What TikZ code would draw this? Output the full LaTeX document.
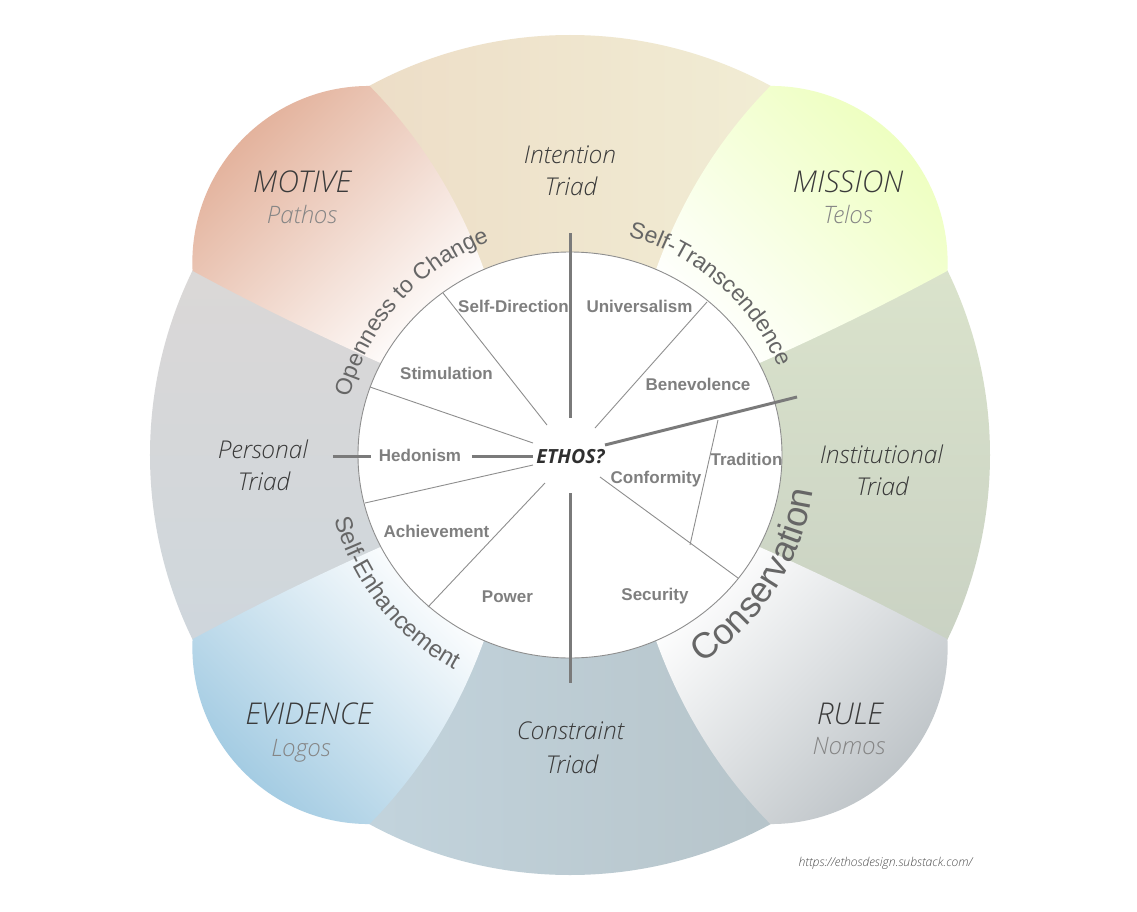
\documentclass[tikz,border=0pt]{standalone}
\usepackage{fontspec}
\setmainfont{Open Sans}
\newfontfamily\arialf{Liberation Sans}
\IfFontExistsTF{Open Sans Light}{\newfontfamily\lightf{Open Sans Light}}{\newfontfamily\lightf{Open Sans}}
\usetikzlibrary{calc,decorations.text}

\definecolor{intL}{HTML}{ECDAC4}
\definecolor{intR}{HTML}{F2F0D7}
\definecolor{perT}{HTML}{DED8D5}
\definecolor{perB}{HTML}{CBD6DE}
\definecolor{insT}{HTML}{DFE8CE}
\definecolor{insB}{HTML}{C5CDC1}
\definecolor{conL}{HTML}{C5D7E1}
\definecolor{conR}{HTML}{B4C1C6}
\definecolor{motC}{HTML}{E2AF98}
\definecolor{misC}{HTML}{EDFFBD}
\definecolor{eviC}{HTML}{9FC9E1}
\definecolor{rulC}{HTML}{BCC2C6}
\definecolor{txtdark}{HTML}{3A3A3A}
\definecolor{txtsub}{HTML}{858585}
\definecolor{valc}{HTML}{7F7F7F}
\definecolor{curvc}{HTML}{666666}
\definecolor{linec}{HTML}{7A7A7A}
\definecolor{thinc}{HTML}{8E8E8E}
\definecolor{ethosc}{HTML}{2F2F2F}
\definecolor{urlc}{HTML}{505050}

\newcommand{\curvfont}{\arialf\fontsize{23}{27}\selectfont\color{curvc}}
\newcommand{\enhfont}{\arialf\fontsize{24}{28}\selectfont\color{curvc}}
\newcommand{\consfont}{\arialf\fontsize{36}{40}\selectfont\color{curvc}}

% petal with vertical-band side at low angle, horizontal-band side at high angle
\newcommand{\petalA}[1]{({#1-20}:200) .. controls ({#1-21.5}:273) and ({#1-20}:347) .. ($({#1+1.25}:278.6)+({#1+1.25-46.5}:176.4)$) arc[start angle={#1+1.25-46.5}, end angle={#1+1.25+46.5}, radius=176.4] .. controls ({#1+19.5}:347) and ({#1+19.6}:273) .. ({#1+19}:200) -- cycle}
% petal with horizontal-band side at low angle, vertical-band side at high angle
\newcommand{\petalB}[1]{({#1-19}:200) .. controls ({#1-19.6}:273) and ({#1-19.5}:347) .. ($({#1-1.25}:278.6)+({#1-1.25-46.5}:176.4)$) arc[start angle={#1-1.25-46.5}, end angle={#1-1.25+46.5}, radius=176.4] .. controls ({#1+20}:347) and ({#1+21.5}:273) .. ({#1+20}:200) -- cycle}

\begin{document}
\begin{tikzpicture}[x=1pt,y=1pt,
  tri/.style={font=\lightf\itshape\fontsize{24.5}{28}\selectfont, text=txtdark, anchor=base, inner sep=0pt},
  bigname/.style={font=\lightf\itshape\fontsize{30}{34}\selectfont, text=txtdark, anchor=base, inner sep=0pt},
  subname/.style={font=\lightf\itshape\fontsize{24}{28}\selectfont, text=txtsub, anchor=base, inner sep=0pt},
  val/.style={font=\arialf\bfseries\fontsize{17}{20}\selectfont, text=valc, anchor=base, inner sep=0pt},
  thickln/.style={draw=linec, line width=3pt},
  thinln/.style={draw=thinc, line width=0.9pt},
]
\path[use as bounding box, fill=white] (-570,-456) rectangle (567,455);

% bands
\shade[left color=intL, right color=intR] (0,0) -- (45:420) arc[start angle=45, end angle=135, radius=420] -- cycle;
\shade[top color=insT, bottom color=insB] (0,0) -- (-45:420) arc[start angle=-45, end angle=45, radius=420] -- cycle;
\shade[left color=conL, right color=conR] (0,0) -- (225:420) arc[start angle=225, end angle=315, radius=420] -- cycle;
\shade[top color=perT, bottom color=perB] (0,0) -- (135:420) arc[start angle=135, end angle=225, radius=420] -- cycle;

% petals
\shade[top color=motC, bottom color=white, shading angle=45] \petalA{135};
\shade[top color=misC, bottom color=white, shading angle=-45] \petalB{45};
\shade[top color=white, bottom color=eviC, shading angle=-45] \petalB{225};
\shade[top color=white, bottom color=rulC, shading angle=45] \petalA{315};

% curved labels
\path[decorate, decoration={text along path, text align=center, text={|\curvfont|Openness to Change}}] (170:228) arc[start angle=170, end angle=106, radius=228];
\path[decorate, decoration={text along path, text align=center, text={|\curvfont|Self-Transcendence}}] (90:226) arc[start angle=90, end angle=8, radius=226];
\path[decorate, decoration={text along path, text align=center, text={|\enhfont|Self-Enhancement}}] (180:244) arc[start angle=180, end angle=257, radius=244];
\path[decorate, decoration={text along path, text align=center, text={|\consfont|Conservation}}] (-80:246) arc[start angle=-80, end angle=14, radius=246];

% inner disc
\draw[draw=thinc, line width=0.9pt, fill=white] (0,0) ellipse [x radius=212, y radius=203];

% coordinates
\coordinate (vt1) at (0,222); \coordinate (vt2) at (0,37);
\coordinate (vb1) at (0,-38); \coordinate (vb2) at (0,-228);
\coordinate (hl1) at (-237,-1); \coordinate (hl2) at (-199,-1);
\coordinate (hi1) at (-98,-1); \coordinate (hi2) at (-37,-1);
\coordinate (sl1) at (35,10); \coordinate (sl2) at (227,58);
\coordinate (t1a) at (-23,30); \coordinate (t1b) at (-127,162);
\coordinate (t2a) at (-37,12); \coordinate (t2b) at (-200,68);
\coordinate (t3a) at (-37,-10); \coordinate (t3b) at (-205,-48);
\coordinate (t4a) at (-25,-28); \coordinate (t4b) at (-142,-152);
\coordinate (t5a) at (25,27); \coordinate (t5b) at (137,153);
\coordinate (t6a) at (30,-22); \coordinate (t6b) at (168,-123);
\coordinate (t7a) at (148,35); \coordinate (t7b) at (120,-90);

% thin dividers
\draw[thinln] (t1a) -- (t1b);
\draw[thinln] (t2a) -- (t2b);
\draw[thinln] (t3a) -- (t3b);
\draw[thinln] (t4a) -- (t4b);
\draw[thinln] (t5a) -- (t5b);
\draw[thinln] (t6a) -- (t6b);
\draw[thinln] (t7a) -- (t7b);

% thick axes
\draw[thickln] (vt1) -- (vt2);
\draw[thickln] (vb1) -- (vb2);
\draw[thickln] (hl1) -- (hl2);
\draw[thickln] (hi1) -- (hi2);
\draw[thickln] (sl1) -- (sl2);

% triad labels
\node[tri] (intA) at (0,291.5) {Intention};
\node[tri] (intB) at (1,259) {Triad};
\node[tri] (perA) at (-307,-3) {Personal};
\node[tri] (perB) at (-306,-35) {Triad};
\node[tri] (insA) at (311.5,-8) {Institutional};
\node[tri] (insB) at (312.5,-40) {Triad};
\node[tri] (conA) at (0.5,-284) {Constraint};
\node[tri] (conB) at (2,-318) {Triad};

% petal labels
\node[bigname] (motA) at (-268,262) {MOTIVE};
\node[subname] (motB) at (-268,232) {Pathos};
\node[bigname] (misA) at (278,262) {MISSION};
\node[subname] (misB) at (278,232) {Telos};
\node[bigname] (eviA) at (-261,-269) {EVIDENCE};
\node[subname] (eviB) at (-269,-301) {Logos};
\node[bigname] (rulA) at (280,-269) {RULE};
\node[subname] (rulB) at (279,-299) {Nomos};

% values
\node[val] (sd) at (-56.5,142.5) {Self-Direction};
\node[val] (un) at (69.5,142.5) {Universalism};
\node[val] (st) at (-123.5,75.5) {Stimulation};
\node[val] (be) at (128,64.5) {Benevolence};
\node[val] (he) at (-150,-6.5) {Hedonism};
\node[val] (tr) at (176.5,-10.5) {Tradition};
\node[val] (co) at (86,-28.5) {Conformity};
\node[val] (ac) at (-133.5,-82.5) {Achievement};
\node[val] (po) at (-62.5,-147.5) {Power};
\node[val] (se) at (85,-145.5) {Security};

\node[font=\bfseries\itshape\fontsize{19.5}{22}\selectfont, text=ethosc, anchor=base, inner sep=0pt] (ethos) at (0.5,-8) {ETHOS?};

\node[font=\lightf\itshape\fontsize{12.2}{14}\selectfont, text=urlc, anchor=base, inner sep=0pt] (url) at (315.5,-411) {https://ethosdesign.substack.com/};
\end{tikzpicture}
\end{document}
